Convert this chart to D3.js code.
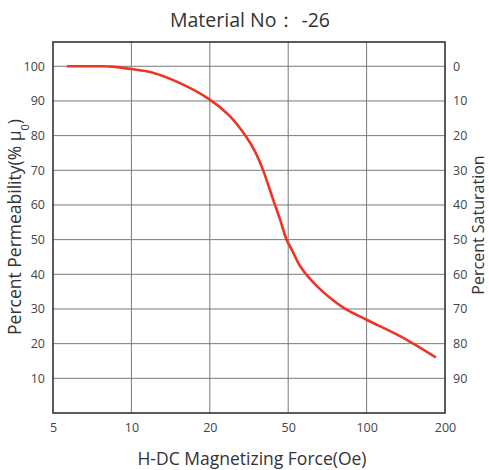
<!DOCTYPE html>
<html>
<head>
<meta charset="utf-8">
<script src="https://cdn.jsdelivr.net/npm/d3@7"></script>
<style>
  html, body { margin: 0; padding: 0; background: #fff; }
  svg { display: block; font-family: "Open Sans", "Noto Sans", sans-serif; }
</style>
</head>
<body>
<svg id="chart" width="489" height="470"></svg>
<script>
// ---- data ----
const title = "Material No：  -26";
const xTicks = [5, 10, 20, 50, 100, 200];
const yTicksLeft = [10, 20, 30, 40, 50, 60, 70, 80, 90, 100];
const field = [5.7, 7.2, 8.4, 10, 12, 15.3, 20, 25, 30.5, 34, 37.2, 41.9, 45.4, 49.1, 52.1, 55.6, 64.6, 81.7, 100, 135, 183];
const permeability = [100, 100, 99.9, 99.2, 98.2, 95.2, 90.4, 85.9, 79.8, 75.3, 70.2, 61.6, 55.9, 50, 46.5, 42.3, 36.5, 30.3, 26.9, 22.1, 16.2];

// ---- layout ----
const W = 489, H = 470;
const m = { left: 53, right: 44, top: 42, bottom: 57 };
const iw = W - m.left - m.right, ih = H - m.top - m.bottom;

const svg = d3.select("#chart");
const g = svg.append("g").attr("transform", `translate(${m.left},${m.top})`);

// x: equally spaced ticks, log interpolation between them
const step = iw / (xTicks.length - 1);
const x = d3.scaleLog().domain(xTicks).range(xTicks.map((d, i) => i * step));
const y = d3.scaleLinear().domain([0, 107]).range([ih, 0]);
const yR = d3.scaleLinear().domain([100, -7]).range([ih, 0]);

const gridColor = "#7a7a7a";
// horizontal grid
g.append("g").selectAll("line").data(yTicksLeft).join("line")
  .attr("x1", 0).attr("x2", iw)
  .attr("y1", d => y(d)).attr("y2", d => y(d))
  .attr("stroke", gridColor).attr("stroke-width", 1);
// vertical grid
g.append("g").selectAll("line").data(xTicks.slice(1, -1)).join("line")
  .attr("y1", 0).attr("y2", ih)
  .attr("x1", d => x(d)).attr("x2", d => x(d))
  .attr("stroke", gridColor).attr("stroke-width", 1);

// frame
g.append("rect").attr("x", 0).attr("y", 0).attr("width", iw).attr("height", ih)
  .attr("fill", "none").attr("stroke", "#333").attr("stroke-width", 1.6);

// axes (labels only)
const labelColor = "#444";
const axL = g.append("g").call(d3.axisLeft(y).tickValues(yTicksLeft).tickSize(0).tickPadding(8));
const axR = g.append("g").attr("transform", `translate(${iw},0)`)
  .call(d3.axisRight(yR).tickValues(yTicksLeft.map(d => 100 - d)).tickSize(0).tickPadding(8));
const axB = g.append("g").attr("transform", `translate(0,${ih})`)
  .call(d3.axisBottom(x).tickValues(xTicks).tickFormat(d3.format("d")).tickSize(0).tickPadding(10));
[axL, axR, axB].forEach(a => {
  a.select(".domain").remove();
  a.selectAll("text").attr("fill", labelColor).style("font-size", "12.5px")
    .style("font-family", "'Open Sans', 'Noto Sans', sans-serif");
});

// curve
const line = d3.line()
  .x((d, i) => x(field[i]))
  .y((d, i) => y(permeability[i]))
  .curve(d3.curveCatmullRom.alpha(0.5));
g.append("path").datum(field).attr("d", line)
  .attr("fill", "none").attr("stroke", "#ee3524").attr("stroke-width", 2.6)
  .attr("stroke-linecap", "round");

// title
svg.append("text").attr("x", 250).attr("y", 27).attr("text-anchor", "middle")
  .attr("fill", "#333").style("font-size", "19.5px").text(title);

// x label
svg.append("text").attr("x", 252).attr("y", 465).attr("text-anchor", "middle")
  .attr("fill", "#333").style("font-size", "17.5px").text("H-DC Magnetizing Force(Oe)");

// left label
const yl = svg.append("text").attr("transform", `translate(21,227) rotate(-90)`)
  .attr("text-anchor", "middle").attr("fill", "#333").style("font-size", "17.5px");
yl.append("tspan").text("Percent Permeability(% μ");
yl.append("tspan").attr("baseline-shift", "sub").style("font-size", "11px").text("0");
yl.append("tspan").text(")");

// right label
svg.append("text").attr("transform", `translate(484,225) rotate(-90)`)
  .attr("text-anchor", "middle").attr("fill", "#333").style("font-size", "16px")
  .text("Percent Saturation");
</script>
</body>
</html>
